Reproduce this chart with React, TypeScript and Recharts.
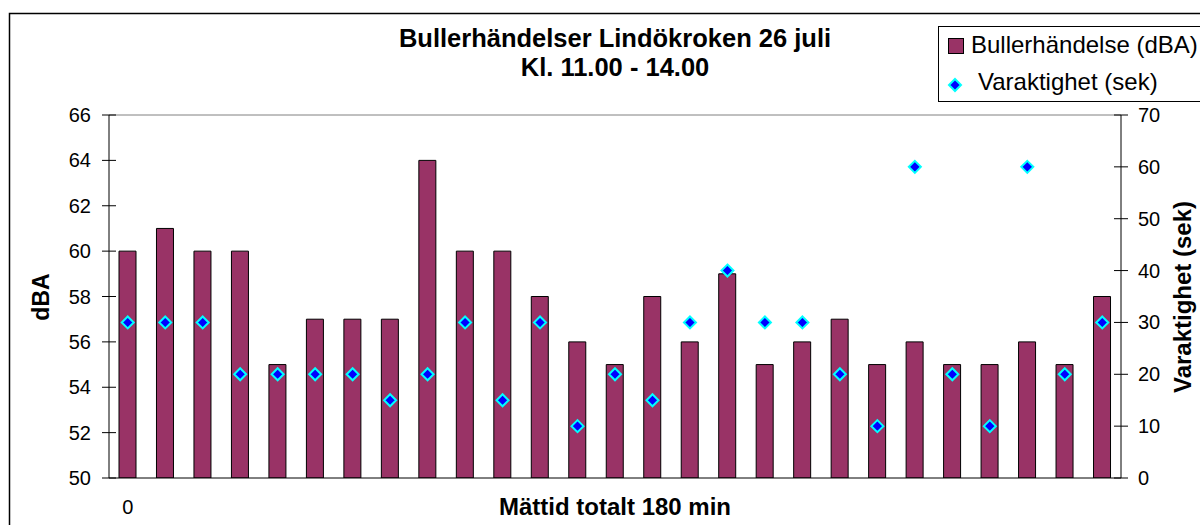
import {
  ComposedChart,
  Bar,
  Scatter,
  XAxis,
  YAxis,
  ReferenceLine,
} from "recharts";

// Buller event number (x categories), level in dBA and duration in seconds
const events = [
  1, 2, 3, 4, 5, 6, 7, 8, 9, 10, 11, 12, 13, 14, 15, 16, 17, 18, 19, 20, 21, 22, 23, 24, 25, 26, 27,
];
const dba = [
  60, 61, 60, 60, 55, 57, 57, 57, 64, 60, 60, 58, 56, 55, 58, 56, 59, 55, 56, 57, 55, 56, 55, 55, 56, 55, 58,
];
const sek = [
  30, 30, 30, 20, 20, 20, 20, 15, 20, 30, 15, 30, 10, 20, 15, 30, 40, 30, 30, 20, 10, 60, 20, 10, 60, 20, 30,
];
const xTickLabels = events.map((_, i) => (i === 0 ? "0" : ""));
const leftTicks = [50, 52, 54, 56, 58, 60, 62, 64, 66];
const rightTicks = [0, 10, 20, 30, 40, 50, 60, 70];

const data = events.map((n, i) => ({ n, dba: dba[i], sek: sek[i] }));

const FONT = '"Liberation Sans", Arial, Helvetica, sans-serif';
const BAR = "#993366";

function Diamond({ cx, cy, r = 6 }: { cx: number; cy: number; r?: number }) {
  if (cx == null || cy == null) return null;
  return (
    <polygon
      points={`${cx},${cy - r} ${cx + r},${cy} ${cx},${cy + r} ${cx - r},${cy}`}
      fill="#0000FF"
      stroke="#00FFFF"
      strokeWidth={2}
    />
  );
}

// tick marks cross the axis line, so the inner half is drawn here
function LeftTick(props: any) {
  const { x, y, payload } = props;
  const axisX = x + 18;
  return (
    <g>
      <line x1={axisX} x2={axisX + 7} y1={y} y2={y} stroke="#000" />
      <text x={x} y={y} dy="0.35em" textAnchor="end" fontSize={20} fontFamily={FONT} fill="#000">
        {payload.value}
      </text>
    </g>
  );
}

function RightTick(props: any) {
  const { x, y, payload } = props;
  const axisX = x - 17;
  return (
    <g>
      <line x1={axisX - 7} x2={axisX} y1={y} y2={y} stroke="#000" />
      <text x={x} y={y} dy="0.35em" textAnchor="start" fontSize={20} fontFamily={FONT} fill="#000">
        {payload.value}
      </text>
    </g>
  );
}

export default function App() {
  return (
    <div style={{ position: "absolute", top: 0, left: 0, width: 1200, height: 525, background: "#fff" }}>
      <ComposedChart
        width={1200}
        height={525}
        data={data}
        margin={{ top: 115, right: 0, bottom: 0, left: 0 }}
      >
        <XAxis
          dataKey="n"
          type="category"
          height={47}
          interval={0}
          tickLine={false}
          tickSize={0}
          tickMargin={22}
          tickFormatter={(_v: any, i: number) => xTickLabels[i]}
          tick={{ fontSize: 20, fontFamily: FONT, fill: "#000" }}
          axisLine={{ stroke: "#000" }}
          label={{
            value: "Mättid totalt 180 min",
            position: "insideBottom",
            offset: 10,
            style: { fontSize: 24, fontWeight: "bold", fontFamily: FONT, fill: "#000" },
          }}
        />
        <YAxis
          yAxisId="left"
          orientation="left"
          width={109}
          domain={[50, 66]}
          ticks={leftTicks}
          interval={0}
          tickSize={7}
          tickMargin={11}
          tick={<LeftTick />}
          tickLine={{ stroke: "#000" }}
          axisLine={{ stroke: "#000" }}
          allowDataOverflow
        />
        <YAxis
          yAxisId="right"
          orientation="right"
          width={79}
          domain={[0, 70]}
          ticks={rightTicks}
          interval={0}
          tickSize={7}
          tickMargin={10}
          tick={<RightTick />}
          tickLine={{ stroke: "#000" }}
          axisLine={{ stroke: "#000" }}
        />
        <ReferenceLine yAxisId="left" y={66} stroke="#808080" />
        <Bar
          yAxisId="left"
          dataKey="dba"
          fill={BAR}
          stroke="#000"
          strokeWidth={1}
          barSize={17}
          isAnimationActive={false}
        />
        <Scatter
          yAxisId="right"
          dataKey="sek"
          shape={(p: any) => <Diamond cx={p.cx} cy={p.cy} />}
          isAnimationActive={false}
        />
      </ComposedChart>

      <svg
        width={1200}
        height={525}
        style={{ position: "absolute", top: 0, left: 0, pointerEvents: "none" }}
        fontFamily={FONT}
      >
        <rect x={9.5} y={13.5} width={1300} height={600} fill="none" stroke="#000" strokeWidth={1.5} />
        <text x={615} y={47} textAnchor="middle" fontSize={25.5} fontWeight="bold">
          Bullerhändelser Lindökroken 26 juli
        </text>
        <text x={615} y={76} textAnchor="middle" fontSize={25.5} fontWeight="bold">
          Kl. 11.00 - 14.00
        </text>
        <text
          transform="translate(41,297) rotate(-90)"
          dy="0.35em"
          textAnchor="middle"
          fontSize={23}
          fontWeight="bold"
        >
          dBA
        </text>
        <text
          transform="translate(1183,297) rotate(-90)"
          dy="0.35em"
          textAnchor="middle"
          fontSize={24}
          fontWeight="bold"
        >
          Varaktighet (sek)
        </text>

        <g>
          <rect x={938.5} y={26.5} width={300} height={75} fill="#fff" stroke="#000" />
          <rect x={948.5} y={38.5} width={15} height={15} fill={BAR} stroke="#000" />
          <text x={971} y={53} fontSize={24}>
            Bullerhändelse (dBA)
          </text>
          <Diamond cx={955} cy={85} />
          <text x={978} y={90} fontSize={24}>
            Varaktighet (sek)
          </text>
        </g>
      </svg>
    </div>
  );
}
